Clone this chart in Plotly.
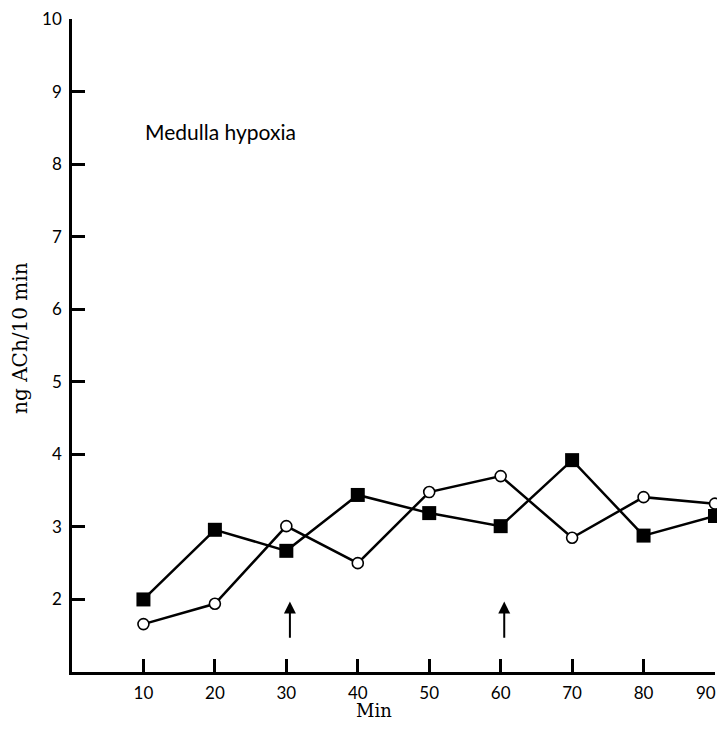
import plotly.graph_objects as go

minutes = [10, 20, 30, 40, 50, 60, 70, 80, 90]
filled_values = [2.0, 2.96, 2.67, 3.44, 3.19, 3.01, 3.92, 2.88, 3.15]
open_values = [1.66, 1.94, 3.01, 2.50, 3.48, 3.70, 2.85, 3.41, 3.32]
x_ticks = [10, 20, 30, 40, 50, 60, 70, 80, 90]
y_ticks = [2, 3, 4, 5, 6, 7, 8, 9, 10]
arrow_x = [30.5, 60.5]
arrow_tail = 1.45
arrow_head = 1.97

tick_font = dict(family="Lato", size=17, color="black")

fig = go.Figure()
fig.add_trace(go.Scatter(
    x=minutes, y=filled_values, mode="lines+markers",
    line=dict(color="black", width=2.5),
    marker=dict(symbol="square", size=14, color="black"),
    cliponaxis=False, showlegend=False))
fig.add_trace(go.Scatter(
    x=minutes, y=open_values, mode="lines+markers",
    line=dict(color="black", width=2.5),
    marker=dict(symbol="circle", size=11, color="white",
                line=dict(color="black", width=1.6)),
    cliponaxis=False, showlegend=False))

for ax_x in arrow_x:
    fig.add_annotation(x=ax_x, y=arrow_head, ax=ax_x, ay=arrow_tail,
                       xref="x", yref="y", axref="x", ayref="y",
                       showarrow=True, arrowhead=2, arrowsize=1.2,
                       arrowwidth=2, arrowcolor="black", text="")

fig.add_annotation(x=9.9, y=8.45, xref="x", yref="y", text="Medulla hypoxia",
                   showarrow=False, xanchor="left", yanchor="middle",
                   font=dict(family="Lato", size=21, color="black"))

# last x tick label placed so it stays inside the visible page
fig.add_annotation(x=x_ticks[-1], y=0, xref="x", yref="paper", text=str(x_ticks[-1]),
                   showarrow=False, xanchor="right", yanchor="middle",
                   xshift=2, yshift=-20, borderpad=0, font=tick_font)

fig.add_annotation(x=0.47, y=0, xref="paper", yref="paper", text="Min",
                   showarrow=False, xanchor="center", yanchor="bottom", yshift=-50,
                   borderpad=0,
                   font=dict(family="DejaVu Serif", size=18, color="black"))
fig.add_annotation(x=-0.08, y=0.511, xref="paper", yref="paper", text="ng ACh/10 min",
                   showarrow=False, xanchor="center", yanchor="middle", textangle=-90,
                   font=dict(family="DejaVu Serif", size=20, color="black"))

fig.update_layout(
    width=717, height=714,
    margin=dict(l=64, r=10, t=11, b=50, autoexpand=False),
    plot_bgcolor="white", paper_bgcolor="white",
    xaxis=dict(range=[0, 90], tickvals=x_ticks,
               ticktext=[str(v) for v in x_ticks[:-1]] + [""],
               showline=True, linecolor="black", linewidth=2.5,
               ticks="inside", ticklen=13, tickwidth=2.5, tickcolor="black",
               showgrid=False, zeroline=False, ticklabeloverflow="allow",
               automargin=False, tickfont=tick_font, ticklabelstandoff=4),
    yaxis=dict(range=[1, 10], tickvals=y_ticks, ticktext=[str(v) for v in y_ticks],
               showline=True, linecolor="black", linewidth=2.5,
               ticks="inside", ticklen=13, tickwidth=2.5, tickcolor="black",
               showgrid=False, zeroline=False, ticklabeloverflow="allow",
               automargin=False, tickfont=tick_font, ticklabelstandoff=4),
)

fig.write_html("out.html")
